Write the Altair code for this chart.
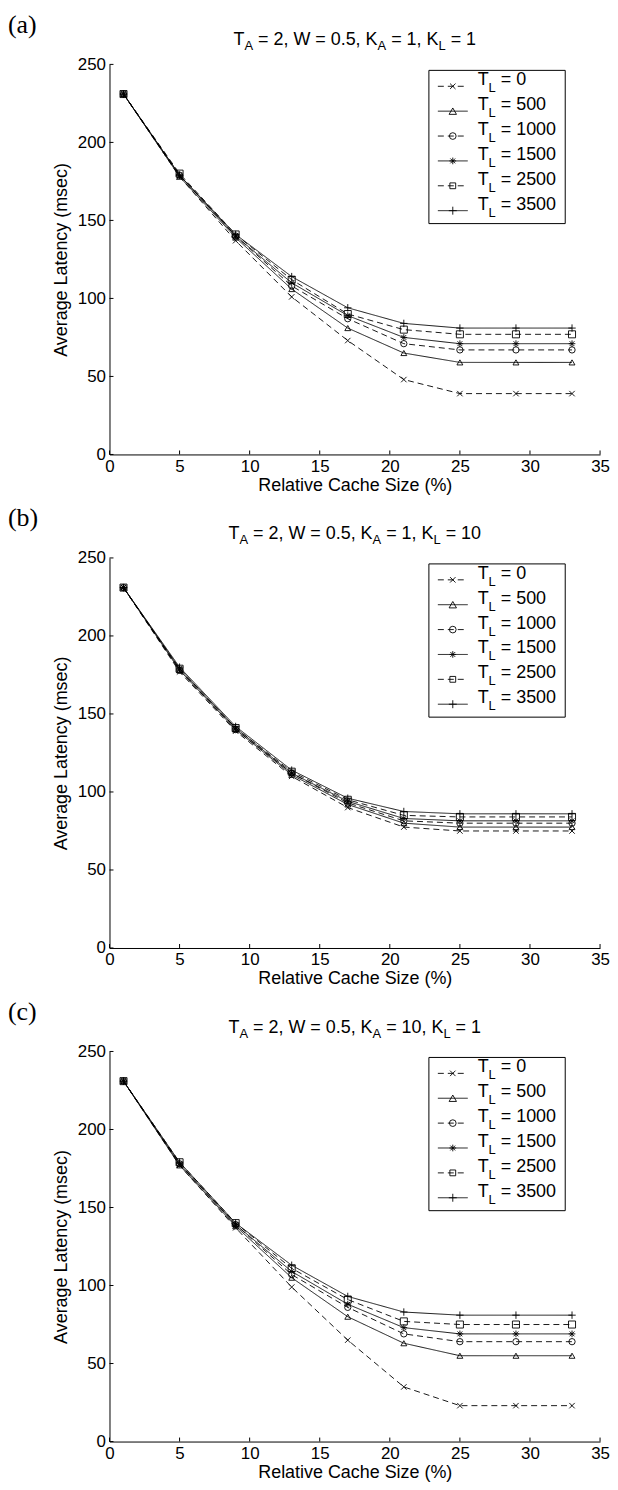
import altair as alt
import pandas as pd

# ---------------- data ----------------
X_VALUES = [1, 5, 9, 13, 17, 21, 25, 29, 33]
TL_VALUES = ["0", "500", "1000", "1500", "2500", "3500"]

A_T0 = [231, 178, 137, 101, 73, 48, 39, 39, 39]
A_T500 = [231, 178, 139, 106, 81, 65, 59, 59, 59]
A_T1000 = [231, 179, 140, 108, 87, 71, 67, 67, 67]
A_T1500 = [231, 179, 140, 110, 89, 75, 71, 71, 71]
A_T2500 = [231, 180, 141, 112, 90, 80, 77, 77, 77]
A_T3500 = [231, 179, 141, 114, 94, 84, 81, 81, 81]

B_T0 = [231, 177, 139, 110, 90, 77.5, 75, 75, 75]
B_T500 = [231, 178, 140, 111, 92, 80, 77.5, 77.5, 77.5]
B_T1000 = [231, 178, 140, 112, 93, 81.5, 80, 80, 80]
B_T1500 = [231, 179, 141, 112, 94, 83, 81.5, 81.5, 81.5]
B_T2500 = [231, 179, 141, 113, 95, 85, 84, 84, 84]
B_T3500 = [231, 180, 142, 114, 96, 87.5, 86, 86, 86]

C_T0 = [231, 177, 137, 99, 65, 35, 23, 23, 23]
C_T500 = [231, 177, 138, 105, 80, 63, 55, 55, 55]
C_T1000 = [231, 178, 139, 107, 86, 69, 64, 64, 64]
C_T1500 = [231, 178, 139, 109, 88, 73, 69, 69, 69]
C_T2500 = [231, 179, 140, 111, 91, 77, 75, 75, 75]
C_T3500 = [231, 179, 140, 113, 93, 83, 81, 81, 81]

PANEL_SERIES = [
    [A_T0, A_T500, A_T1000, A_T1500, A_T2500, A_T3500],
    [B_T0, B_T500, B_T1000, B_T1500, B_T2500, B_T3500],
    [C_T0, C_T500, C_T1000, C_T1500, C_T2500, C_T3500],
]
PANEL_LABELS = ["(a)", "(b)", "(c)"]
TITLE_TA = ["2", "2", "2"]
TITLE_W = ["0.5", "0.5", "0.5"]
TITLE_KA = ["1", "1", "10"]
TITLE_KL = ["1", "10", "1"]

X_TICKS = [0, 5, 10, 15, 20, 25, 30, 35]
Y_TICKS = [0, 50, 100, 150, 200, 250]
X_TITLE = "Relative Cache Size (%)"
Y_TITLE = "Average Latency (msec)"

# ---------------- styles ----------------
FONT = "Liberation Sans"
SERIF = "Liberation Serif"
W, H = 493, 392
DASHES = [[6, 4], [1, 0], [6, 4], [1, 0], [6, 4], [1, 0]]
SHAPES = [
    "M-1,-1L1,1M-1,1L1,-1",
    "triangle-up",
    "circle",
    "M-1,0L1,0M0,-1L0,1M-0.72,-0.72L0.72,0.72M-0.72,0.72L0.72,-0.72",
    "square",
    "M-1,0L1,0M0,-1L0,1",
]
SIZES = [30, 55, 45, 45, 34, 64]
LW = 0.9

# Arial / Liberation Sans advance widths (em)
ADV = {" ": 0.278, ",": 0.278, ".": 0.278, "=": 0.584, "T": 0.611, "A": 0.667,
       "K": 0.667, "L": 0.556, "W": 0.944}
for d in "0123456789":
    ADV[d] = 0.556


def tw(s, size):
    return sum(ADV.get(c, 0.556) for c in s) * size


DUMMY = pd.DataFrame({"k": [0]})


def xenc(field):
    return alt.X(
        f"{field}:Q",
        scale=alt.Scale(domain=[0, 35], nice=False, zero=False),
        axis=alt.Axis(values=X_TICKS, ticks=False, grid=False, domainColor="black",
                      domainWidth=1, labelFontSize=17, labelColor="black", labelFont=FONT,
                      labelPadding=4, labelFlush=False, titleFontSize=18, titleFont=FONT,
                      titleFontWeight="normal", titleColor="black", titlePadding=2,
                      format="d"),
        title=X_TITLE,
    )


def yenc(field):
    return alt.Y(
        f"{field}:Q",
        scale=alt.Scale(domain=[0, 250], nice=False, zero=True),
        axis=alt.Axis(values=Y_TICKS, ticks=False, grid=False, domainColor="black",
                      domainWidth=1, labelFontSize=17, labelColor="black", labelFont=FONT,
                      labelPadding=4, labelFlush=False, titleFontSize=18, titleFont=FONT,
                      titleFontWeight="normal", titleColor="black", titlePadding=7,
                      format="d"),
        title=Y_TITLE,
    )


def seg_text(parts, x0, yc, size, subsize, suboff, anchor="left"):
    """parts: list of (text, is_sub). returns layers."""
    total = sum(tw(t, subsize if sub else size) for t, sub in parts)
    cur = x0 - total / 2 if anchor == "center" else x0
    layers = []
    for t, sub in parts:
        fs = subsize if sub else size
        lead = len(t) - len(t.lstrip(" "))
        txt = t.strip(" ")
        if txt:
            layers.append(
                alt.Chart(DUMMY).mark_text(
                    text=txt, font=FONT, fontSize=fs, align="left", baseline="middle",
                    color="black",
                ).encode(x=alt.value(cur + tw(" " * lead, fs)),
                         y=alt.value(yc + (suboff if sub else 0)))
            )
        cur += tw(t, fs)
    return layers


def panel(i):
    rows = []
    for tl, vals in zip(TL_VALUES, PANEL_SERIES[i]):
        for xv, yv in zip(X_VALUES, vals):
            rows.append({"x": xv, "y": yv, "tl": tl})
    df = pd.DataFrame(rows)

    dash = alt.StrokeDash("tl:N", scale=alt.Scale(domain=TL_VALUES, range=DASHES), legend=None)
    shape = alt.Shape("tl:N", scale=alt.Scale(domain=TL_VALUES, range=SHAPES), legend=None)
    size = alt.Size("tl:N", scale=alt.Scale(domain=TL_VALUES, range=SIZES), legend=None)

    lines = alt.Chart(df).mark_line(color="black", strokeWidth=LW).encode(
        x=xenc("x"), y=yenc("y"), detail="tl:N", strokeDash=dash)
    points = alt.Chart(df).mark_point(filled=False, color="black", strokeWidth=LW,
                                      opacity=1).encode(
        x=xenc("x"), y=yenc("y"), shape=shape, size=size)

    xt = pd.DataFrame({"v": X_TICKS})
    yt = pd.DataFrame({"v": Y_TICKS})
    xticks = alt.Chart(xt).mark_rule(color="black", strokeWidth=1).encode(
        x=xenc("v"), y=alt.value(H), y2=alt.value(H - 4))
    yticks = alt.Chart(yt).mark_rule(color="black", strokeWidth=1).encode(
        y=yenc("v"), x=alt.value(0), x2=alt.value(4))

    layers = [lines, points, xticks, yticks]

    # panel label
    layers.append(alt.Chart(DUMMY).mark_text(
        text=PANEL_LABELS[i], font=SERIF, fontSize=26, align="left", baseline="middle",
        color="black").encode(x=alt.value(-102), y=alt.value(-40)))

    # title with subscripts
    tparts = [("T", False), ("A", True), (f" = {TITLE_TA[i]}, W = {TITLE_W[i]}, K", False),
              ("A", True), (f" = {TITLE_KA[i]}, K", False), ("L", True),
              (f" = {TITLE_KL[i]}", False)]
    layers += seg_text(tparts, W / 2, -24, 18, 13, 6, anchor="center")

    # legend
    bx0, bx1, by0, by1 = 321, 458, 6, 160
    layers.append(alt.Chart(DUMMY).mark_rect(fill="white", stroke="black",
                                             strokeWidth=1).encode(
        x=alt.value(bx0), x2=alt.value(bx1), y=alt.value(by0), y2=alt.value(by1)))
    for j, tl in enumerate(TL_VALUES):
        ys = by0 + 16 + 25 * j
        layers.append(alt.Chart(DUMMY).mark_rule(
            color="black", strokeWidth=LW, strokeDash=DASHES[j]).encode(
            x=alt.value(bx0 + 9), x2=alt.value(bx0 + 39), y=alt.value(ys)))
        layers.append(alt.Chart(DUMMY).mark_point(
            shape=SHAPES[j], size=SIZES[j], filled=False, color="black",
            strokeWidth=LW, opacity=1).encode(x=alt.value(bx0 + 24), y=alt.value(ys)))
        layers += seg_text([("T", False), ("L", True), (f" = {tl}", False)],
                           bx0 + 49, ys - 6, 18, 13, 8)

    return alt.layer(*layers).properties(width=W, height=H)


chart = alt.vconcat(*[panel(i) for i in range(3)], spacing=11).properties(
    padding=0).configure_view(stroke=None)

chart.save("out.html", embed_options={"renderer": "svg", "actions": False})
